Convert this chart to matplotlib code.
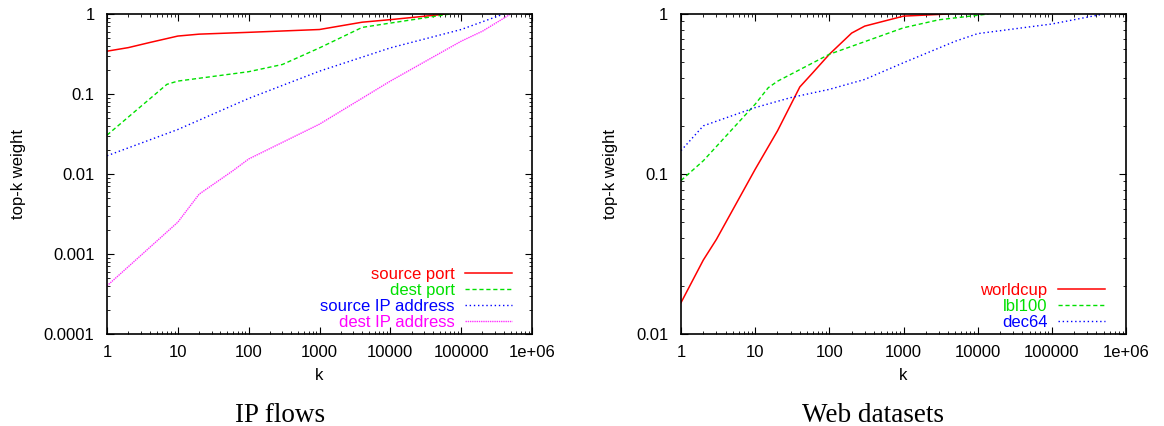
import matplotlib
matplotlib.use("Agg")
import matplotlib.pyplot as plt
from matplotlib.ticker import LogLocator, FixedLocator, NullFormatter

# --- IP flows: top-k weight vs k ---
src_port_k = [1, 2, 4, 10, 20, 100, 1000, 4000, 10000, 50000, 60000]
src_port_w = [0.343, 0.38, 0.44, 0.53, 0.56, 0.59, 0.64, 0.79, 0.85, 0.98, 1.0]

dst_port_k = [1, 7, 10, 100, 300, 1000, 4000, 10000, 70000]
dst_port_w = [0.0306, 0.132, 0.145, 0.19, 0.234, 0.377, 0.68, 0.77, 1.0]

src_ip_k = [1, 10, 100, 1000, 10000, 100000, 400000]
src_ip_w = [0.0169, 0.036, 0.088, 0.193, 0.377, 0.64, 1.0]

dst_ip_k = [1, 10, 20, 60, 100, 1000, 10000, 100000, 200000, 500000]
dst_ip_w = [0.0004, 0.0025, 0.0056, 0.011, 0.0154, 0.042, 0.145, 0.457, 0.61, 1.0]

# --- Web datasets ---
worldcup_k = [1, 2, 3, 10, 20, 40, 60, 100, 200, 300, 1000, 4000]
worldcup_w = [0.0157, 0.029, 0.039, 0.107, 0.186, 0.35, 0.43, 0.56, 0.76, 0.84, 0.97, 1.0]

lbl100_k = [1, 2, 10, 15, 20, 100, 1000, 3000, 14000]
lbl100_w = [0.091, 0.121, 0.273, 0.346, 0.38, 0.56, 0.82, 0.92, 1.0]

dec64_k = [1, 2, 10, 30, 100, 300, 1000, 5000, 10000, 100000, 500000]
dec64_w = [0.14, 0.2, 0.26, 0.30, 0.338, 0.39, 0.496, 0.676, 0.754, 0.866, 1.0]

x_ticks = [1, 10, 100, 1000, 10000, 100000, 1000000]
x_labels = ["1", "10", "100", "1000", "10000", "100000", "1e+06"]

GREEN = "#00e000"

plt.rcParams["font.family"] = ["Liberation Sans", "DejaVu Sans"]
plt.rcParams["font.size"] = 12

fig = plt.figure(figsize=(11.64, 4.26), dpi=100)
ax1 = fig.add_axes([107 / 1164, 92 / 426, 425 / 1164, 320 / 426])
ax2 = fig.add_axes([681 / 1164, 92 / 426, 445 / 1164, 320 / 426])


def style_axes(ax, ymin, yticks, ylabels):
    ax.set_xscale("log")
    ax.set_yscale("log")
    ax.set_xlim(1, 1e6)
    ax.set_ylim(ymin, 1)
    ax.xaxis.set_major_locator(FixedLocator(x_ticks))
    ax.set_xticklabels(x_labels)
    ax.xaxis.set_minor_locator(LogLocator(base=10, subs=range(2, 10), numticks=20))
    ax.xaxis.set_minor_formatter(NullFormatter())
    ax.yaxis.set_major_locator(FixedLocator(yticks))
    ax.set_yticklabels(ylabels)
    ax.yaxis.set_minor_locator(LogLocator(base=10, subs=range(2, 10), numticks=20))
    ax.yaxis.set_minor_formatter(NullFormatter())
    ax.tick_params(which="both", direction="in", top=True, right=True,
                   labelsize=12)
    ax.tick_params(axis="y", pad=9)
    ax.tick_params(axis="x", pad=8)
    ax.tick_params(which="major", length=5, width=0.8)
    ax.tick_params(which="minor", length=2.5, width=0.6)
    for s in ax.spines.values():
        s.set_linewidth(1.2)
    ax.set_xlabel("k", fontsize=12, labelpad=6)
    ax.set_ylabel("top-k weight", fontsize=12, labelpad=13)


def add_legend(ax):
    ax.legend(loc="lower right", bbox_to_anchor=(0.953, 0.014), frameon=False,
              markerfirst=False, labelcolor="linecolor", fontsize=12,
              handlelength=2.8, handletextpad=0.65, labelspacing=0.05,
              borderpad=0, borderaxespad=0)


ax1.plot(src_port_k, src_port_w, color="red", lw=1.1, label="source port")
ax1.plot(dst_port_k, dst_port_w, color=GREEN, lw=1.0, ls=(0, (3, 2)), label="dest port")
ax1.plot(src_ip_k, src_ip_w, color="blue", lw=1.0, ls=(0, (1, 2)), label="source IP address")
ax1.plot(dst_ip_k, dst_ip_w, color="magenta", lw=1.0, ls=(0, (1, 0.6)), alpha=0.8,
         label="dest IP address")
style_axes(ax1, 1e-4, [1e-4, 1e-3, 1e-2, 1e-1, 1],
           ["0.0001", "0.001", "0.01", "0.1", "1"])
add_legend(ax1)
fig.text(280 / 1164, 1 - 415 / 426, "IP flows", family=["Liberation Serif"],
         fontsize=19.5, ha="center", va="center")

ax2.plot(worldcup_k, worldcup_w, color="red", lw=1.1, label="worldcup")
ax2.plot(lbl100_k, lbl100_w, color=GREEN, lw=1.0, ls=(0, (3, 2)), label="lbl100")
ax2.plot(dec64_k, dec64_w, color="blue", lw=1.0, ls=(0, (1, 2)), label="dec64")
style_axes(ax2, 1e-2, [1e-2, 1e-1, 1], ["0.01", "0.1", "1"])
add_legend(ax2)
fig.text(873 / 1164, 1 - 415 / 426, "Web datasets", family=["Liberation Serif"],
         fontsize=19.5, ha="center", va="center")

fig.savefig("out.png", dpi=100)
